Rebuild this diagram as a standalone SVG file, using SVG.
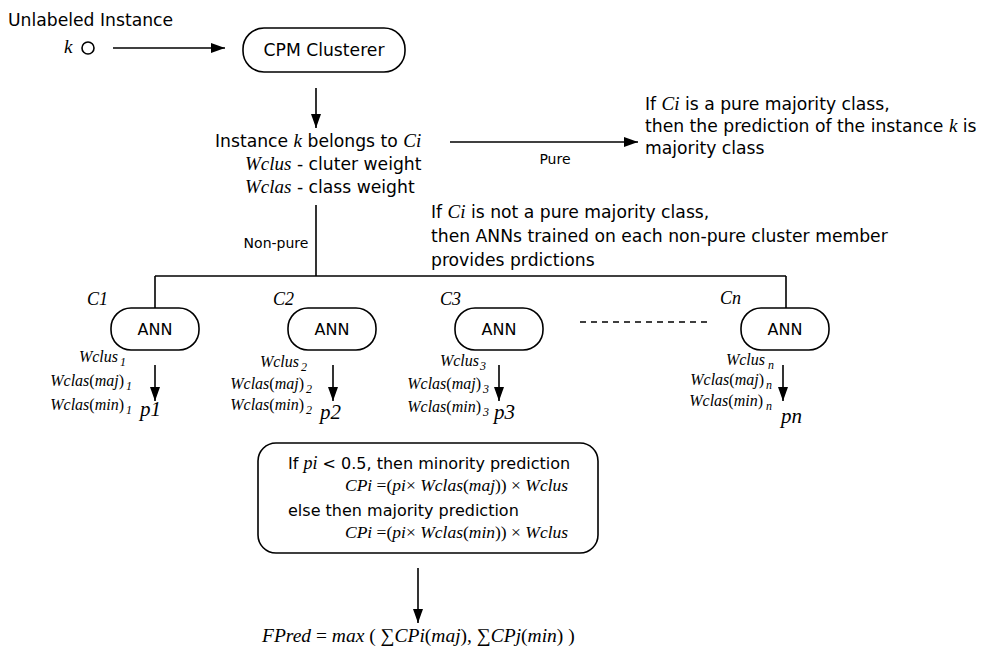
<svg xmlns="http://www.w3.org/2000/svg" width="987" height="649" viewBox="0 0 987 649">
<style>
.s{font-family:"DejaVu Sans",sans-serif;font-size:17.2px;fill:#000}
.sm{font-size:14px}
.bx{font-size:16px}
.an{font-size:16px}
.i{font-family:"Liberation Serif","Times New Roman",serif;font-style:italic;font-size:19px}
.u{font-family:"Liberation Serif","Times New Roman",serif;font-style:normal}
.w{font-family:"Liberation Serif","Times New Roman",serif;font-style:italic;font-size:16px;fill:#000}
.sub{font-size:12px}
.c{font-family:"Liberation Serif","Times New Roman",serif;font-style:italic;font-size:18px;fill:#000}
.p{font-family:"Liberation Serif","Times New Roman",serif;font-style:italic;font-size:21px;fill:#000}
.f{font-size:17.5px}
.fp{font-size:19.5px}
.ln{stroke:#000;stroke-width:1.6;fill:none}
.box{fill:#fff;stroke:#000;stroke-width:1.6}
</style>
<defs>
<marker id="ah" viewBox="0 0 14 10" refX="14" refY="5" markerWidth="14" markerHeight="10" markerUnits="userSpaceOnUse" orient="auto">
<path d="M0,0 L14,5 L0,10 z" fill="#000"/>
</marker>
</defs>
<g id="connectors">
<line class="ln" x1="113" y1="48" x2="225" y2="48" marker-end="url(#ah)"/>
<line class="ln" x1="316" y1="88" x2="316" y2="128" marker-end="url(#ah)"/>
<line class="ln" x1="450" y1="142" x2="638" y2="142" marker-end="url(#ah)"/>
<line class="ln" x1="316" y1="205" x2="316" y2="276"/>
<line class="ln" x1="155" y1="276" x2="786" y2="276"/>
<line class="ln" x1="155" y1="276" x2="155" y2="308"/>
<line class="ln" x1="786" y1="276" x2="786" y2="308"/>
<line class="ln" x1="580" y1="322" x2="712" y2="322" stroke-dasharray="6,5"/>
<line class="ln" x1="155" y1="365" x2="155" y2="401" marker-end="url(#ah)"/>
<line class="ln" x1="333" y1="365" x2="333" y2="401" marker-end="url(#ah)"/>
<line class="ln" x1="499" y1="365" x2="499" y2="401" marker-end="url(#ah)"/>
<line class="ln" x1="783" y1="365" x2="783" y2="401" marker-end="url(#ah)"/>
<line class="ln" x1="418" y1="568" x2="418" y2="623" marker-end="url(#ah)"/>
<text class="s sm" x="555" y="164" text-anchor="middle">Pure</text>
<text class="s sm" x="276" y="248" text-anchor="middle">Non-pure</text>
</g>
<g id="input">
<text class="s" x="8" y="26">Unlabeled Instance</text>
<text class="s i" x="64" y="53">k</text>
<circle cx="88" cy="48" r="6" class="box"/>
</g>
<g id="cpm">
<rect class="box" x="243" y="28" width="162" height="44" rx="21"/>
<text class="s" x="324" y="56" text-anchor="middle">CPM Clusterer</text>
</g>
<g id="membership">
<text class="s" x="215" y="147">Instance <tspan class="i">k</tspan> belongs to <tspan class="i">Ci</tspan></text>
<text class="s" x="245" y="170"><tspan class="i">Wclus</tspan> - cluter weight</text>
<text class="s" x="245" y="193"><tspan class="i">Wclas</tspan> - class weight</text>
</g>
<g id="pure-result">
<text class="s" x="645" y="110">If <tspan class="i">Ci</tspan> is a pure majority class,</text>
<text class="s" x="645" y="132">then the prediction of the instance <tspan class="i">k</tspan> is</text>
<text class="s" x="645" y="154">majority class</text>
</g>
<g id="nonpure-note">
<text class="s" x="431" y="218">If <tspan class="i">Ci</tspan> is not a pure majority class,</text>
<text class="s" x="431" y="242">then ANNs trained on each non-pure cluster member</text>
<text class="s" x="431" y="266">provides prdictions</text>
</g>
<g id="ann1">
<text class="c" x="87" y="305">C1</text>
<rect class="box" x="111" y="308" width="88" height="42" rx="20"/>
<text class="s an" x="155" y="335" text-anchor="middle">ANN</text>
<text class="w" x="126" y="362" text-anchor="end">Wclus<tspan class="sub" dx="2" dy="4">1</tspan></text>
<text class="w" x="132" y="386" text-anchor="end">Wclas<tspan class="u">(</tspan>maj<tspan class="u">)</tspan><tspan class="sub" dx="2" dy="4">1</tspan></text>
<text class="w" x="132" y="410" text-anchor="end">Wclas<tspan class="u">(</tspan>min<tspan class="u">)</tspan><tspan class="sub" dx="2" dy="4">1</tspan></text>
<text class="p" x="140" y="416">p1</text>
</g>
<g id="ann2">
<text class="c" x="273" y="305">C2</text>
<rect class="box" x="288" y="308" width="88" height="42" rx="20"/>
<text class="s an" x="332" y="335" text-anchor="middle">ANN</text>
<text class="w" x="307" y="367" text-anchor="end">Wclus<tspan class="sub" dx="2" dy="4">2</tspan></text>
<text class="w" x="312" y="389" text-anchor="end">Wclas<tspan class="u">(</tspan>maj<tspan class="u">)</tspan><tspan class="sub" dx="2" dy="4">2</tspan></text>
<text class="w" x="312" y="410" text-anchor="end">Wclas<tspan class="u">(</tspan>min<tspan class="u">)</tspan><tspan class="sub" dx="2" dy="4">2</tspan></text>
<text class="p" x="320" y="419">p2</text>
</g>
<g id="ann3">
<text class="c" x="440" y="305">C3</text>
<rect class="box" x="455" y="308" width="88" height="42" rx="20"/>
<text class="s an" x="499" y="335" text-anchor="middle">ANN</text>
<text class="w" x="486" y="366" text-anchor="end">Wclus<tspan class="sub" dx="1" dy="4">3</tspan></text>
<text class="w" x="489" y="389" text-anchor="end">Wclas<tspan class="u">(</tspan>maj<tspan class="u">)</tspan><tspan class="sub" dx="2" dy="4">3</tspan></text>
<text class="w" x="489" y="412" text-anchor="end">Wclas<tspan class="u">(</tspan>min<tspan class="u">)</tspan><tspan class="sub" dx="2" dy="4">3</tspan></text>
<text class="p" x="494" y="419">p3</text>
</g>
<g id="annn">
<text class="c" x="720" y="304">Cn</text>
<rect class="box" x="741" y="308" width="88" height="42" rx="20"/>
<text class="s an" x="785" y="335" text-anchor="middle">ANN</text>
<text class="w" x="774" y="365" text-anchor="end">Wclus<tspan class="sub" dx="3" dy="4">n</tspan></text>
<text class="w" x="772" y="385" text-anchor="end">Wclas<tspan class="u">(</tspan>maj<tspan class="u">)</tspan><tspan class="sub" dx="2" dy="4">n</tspan></text>
<text class="w" x="772" y="406" text-anchor="end">Wclas<tspan class="u">(</tspan>min<tspan class="u">)</tspan><tspan class="sub" dx="3" dy="4">n</tspan></text>
<text class="p" x="781" y="423">pn</text>
</g>
<g id="combine">
<rect class="box" x="258" y="443" width="340" height="110" rx="18"/>
<text class="s bx" x="288" y="469">If <tspan class="i" style="font-size:18px">pi</tspan> &lt; 0.5, then minority prediction</text>
<text class="w f" x="345" y="491">CPi <tspan class="u">=(</tspan>pi<tspan class="u">× </tspan>Wclas<tspan class="u">(</tspan>maj<tspan class="u">)) × </tspan>Wclus</text>
<text class="s bx" x="288" y="516">else then majority prediction</text>
<text class="w f" x="345" y="538">CPi <tspan class="u">=(</tspan>pi<tspan class="u">× </tspan>Wclas<tspan class="u">(</tspan>min<tspan class="u">)) × </tspan>Wclus</text>
</g>
<g id="final">
<text class="w fp" x="262" y="642">FPred <tspan class="u">= </tspan>max <tspan class="u">( ∑</tspan>CPi<tspan class="u">(</tspan>maj<tspan class="u">), ∑</tspan>CPj<tspan class="u">(</tspan>min<tspan class="u">) )</tspan></text>
</g>
</svg>
